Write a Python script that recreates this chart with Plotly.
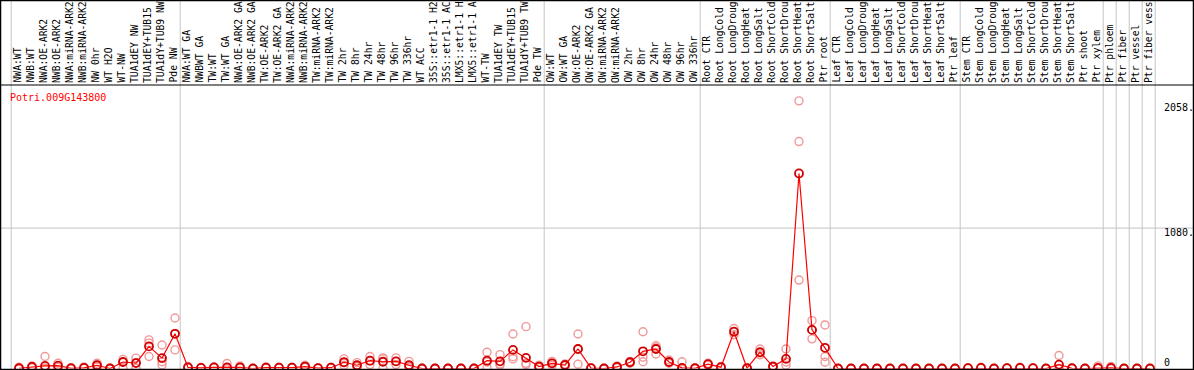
import plotly.graph_objects as go

gene = "Potri.009G143800"

samples = [
    "NWA:WT", "NWB:WT", "NWA:OE-ARK2", "NWB:OE-ARK2", "NWA:miRNA-ARK2", "NWB:miRNA-ARK2",
    "NW 0hr", "WT H2O", "WT-NW", "TUA1dEY NW", "TUA1dEY+TUB15", "TUA1dY+TUB9 NW", "Pde NW",
    "NWA:WT GA", "NWBWT GA", "TW:WT", "TW:WT GA", "NWA:OE-ARK2 GA", "NWB:OE-ARK2 GA",
    "TW:OE-ARK2", "TW:OE-ARK2 GA", "NWA:miRNA-ARK2", "NWB:miRNA-ARK2", "TW:miRNA-ARK2",
    "TW:miRNA-ARK2", "TW 2hr", "TW 8hr", "TW 24hr", "TW 48hr", "TW 96hr", "TW 336hr", "WT ACC",
    "35S::etr1-1 H2", "35S::etr1-1 AC", "LMX5::etr1-1 H", "LMX5::etr1-1 A", "WT-TW",
    "TUA1dEY TW", "TUA1dEY+TUB15", "TUA1dY+TUB9 TW", "Pde TW",
    "OW:WT", "OW:WT GA", "OW:OE-ARK2", "OW:OE-ARK2 GA", "OW:miRNA-ARK2", "OW:miRNA-ARK2",
    "OW 2hr", "OW 8hr", "OW 24hr", "OW 48hr", "OW 96hr", "OW 336hr",
    "Root CTR", "Root LongCold", "Root LongDroug", "Root LongHeat", "Root LongSalt",
    "Root ShortCold", "Root ShortDrou", "Root ShortHeat", "Root ShortSalt", "Ptr root",
    "Leaf CTR", "Leaf LongCold", "Leaf LongDroug", "Leaf LongHeat", "Leaf LongSalt",
    "Leaf ShortCold", "Leaf ShortDrou", "Leaf ShortHeat", "Leaf ShortSalt", "Ptr leaf",
    "Stem CTR", "Stem LongCold", "Stem LongDroug", "Stem LongHeat", "Stem LongSalt",
    "Stem ShortCold", "Stem ShortDrou", "Stem ShortHeat", "Stem ShortSalt", "Ptr shoot",
    "Ptr xylem", "Ptr phloem", "Ptr fiber", "Ptr vessel", "Ptr fiber vess",
]

# group sizes (separators drawn between groups)
group_sizes = [13, 28, 12, 10, 10, 11, 1, 1, 1, 1]

mean_vals = [
    2, 12, 20, 22, 2, 5, 25, 0, 50, 42, 170, 80, 267,
    8, 5, 8, 8, 8, 0, 6, 6, 6, 15, 3, 6, 48, 25, 60, 52, 55, 25, 0, 0, 0, 0, 0,
    60, 55, 143, 82, 15,
    40, 27, 150, 3, 0, 12, 48, 132, 150, 50, 5, 2,
    33, 10, 283, 2, 125, 15, 74, 1500, 297, 159,
    0, 0, 0, 0, 0, 0, 0, 0, 0, 0,
    3, 5, 0, 3, 5, 3, 0, 30, 2, 0, 5,
    5, 0, 0, 0,
]

rep_a = [
    10, 20, 92, 40, 5, 12, 40, 2, 70, 80, 220, 181, 388,
    15, 8, 12, 38, 20, 2, 12, 10, 10, 25, 5, 10, 74, 45, 92, 82, 82, 55, 2, 2, 2, 2, 2,
    125, 107, 265, 322, 25,
    55, 35, 265, 5, 2, 20, 55, 283, 175, 65, 52, 5,
    40, 15, 308, 5, 150, 20, 150, 2058, 368, 335,
    0, 0, 0, 0, 0, 0, 0, 0, 0, 0,
    5, 10, 0, 5, 10, 5, 0, 100, 3, 0, 20,
    15, 0, 0, 0,
]
rep_b = [
    0, 5, 0, 10, 0, 2, 12, 0, 2, 2, 195, 52, 143,
    5, 3, 5, 0, 3, 0, 3, 3, 3, 10, 2, 3, 25, 15, 30, 0, 30, 10, 0, 0, 0, 0, 0,
    5, 25, 74, 40, 8,
    25, 20, 33, 2, 0, 5, 40, 87, 112, 40, 2, 0,
    25, 5, 260, 0, 105, 10, 25, 1745, 228, 92,
    0, 0, 0, 0, 0, 0, 0, 0, 0, 0,
    2, 3, 0, 2, 3, 2, 0, 0, 0, 0, 0,
    0, 0, 0, 0,
]
rep_c = [
    0, 12, 5, 20, 2, 5, 25, 0, 50, 45, 92, 27, 270,
    5, 5, 8, 0, 3, 0, 5, 5, 5, 10, 2, 5, 45, 15, 60, 75, 55, 10, 0, 0, 0, 0, 0,
    50, 35, 90, 30, 12,
    40, 27, 150, 2, 0, 12, 48, 52, 160, 45, 0, 2,
    33, 10, 283, 2, 120, 15, 50, 680, 297, 48,
    0, 0, 0, 0, 0, 0, 0, 0, 0, 0,
    2, 3, 0, 2, 3, 2, 0, 0, 2, 0, 0,
    0, 0, 0, 0,
]

tick_vals = [2058, 1080, 0]
tick_text = ["2058.", "1080.", "0"]

W, H = 1194, 370
FONT = "DejaVu Sans Mono"
x_idx = list(range(len(samples)))

fig = go.Figure()

pink = "#f09898"
for reps in (rep_a, rep_b, rep_c):
    fig.add_trace(go.Scatter(
        x=x_idx, y=reps, mode="markers",
        marker=dict(symbol="circle-open", size=8, color=pink, line=dict(width=1.4, color=pink)),
        hoverinfo="skip", showlegend=False, cliponaxis=False,
    ))

fig.add_trace(go.Scatter(
    x=x_idx, y=mean_vals, mode="lines+markers",
    line=dict(color="#ff0000", width=1.2),
    marker=dict(symbol="circle-open", size=8, color="#d00000", line=dict(width=1.8, color="#d00000")),
    showlegend=False, cliponaxis=False,
))

# axes
y_bottom_px, y_top_px = 368.5, 85
x0 = -19 / 13
fig.update_xaxes(range=[x0, x0 + W / 13], domain=[0, 1], visible=False)
fig.update_yaxes(range=[0, 2180], domain=[(H - y_bottom_px) / H, (H - y_top_px) / H], visible=False)

shapes = []
# horizontal gridline at middle tick
shapes.append(dict(type="line", xref="paper", yref="y", x0=0, x1=1, y0=tick_vals[1], y1=tick_vals[1],
                   line=dict(color="#c4c4c4", width=1), layer="below"))
# group separators
pos = -0.5
seps = [pos]
for g in group_sizes:
    pos += g
    seps.append(pos)
for s in seps:
    shapes.append(dict(type="line", xref="x", yref="paper", x0=s - 0.1, x1=s - 0.1, y0=0, y1=1,
                       line=dict(color="#c4c4c4", width=1), layer="below"))
# header separator and frame
hy = (H - y_top_px) / H
shapes.append(dict(type="line", xref="paper", yref="paper", x0=0, x1=1, y0=hy, y1=hy,
                   line=dict(color="black", width=1.2)))
shapes.append(dict(type="rect", xref="paper", yref="paper", x0=0, x1=1, y0=0, y1=1,
                   line=dict(color="black", width=2.5)))

annotations = []
for i, name in enumerate(samples):
    annotations.append(dict(
        x=i, xref="x", y=(H - 84) / H, yref="paper", text=name, textangle=-90,
        xanchor="center", yanchor="bottom", showarrow=False, xshift=-2, borderpad=0,
        font=dict(family=FONT, size=9.7, color="black"),
    ))
annotations.append(dict(x=8 / W, xref="paper", y=(H - 98) / H, yref="paper", text=gene,
                        xanchor="left", yanchor="middle", showarrow=False,
                        font=dict(family=FONT, size=10, color="#ff0000")))
label_y_px = [107, 232, 362]
for t, ypx in zip(tick_text, label_y_px):
    annotations.append(dict(x=1162 / W, xref="paper", y=(H - ypx) / H, yref="paper", text=t,
                            xanchor="left", yanchor="middle", showarrow=False,
                            font=dict(family=FONT, size=10, color="black")))

fig.update_layout(
    width=W, height=H, margin=dict(l=0, r=0, t=0, b=0),
    paper_bgcolor="white", plot_bgcolor="white",
    shapes=shapes, annotations=annotations,
)

fig.write_html(
    "out.html",
    config={"displayModeBar": False},
    post_script="document.body.style.margin='0';document.body.style.overflow='hidden';",
)
